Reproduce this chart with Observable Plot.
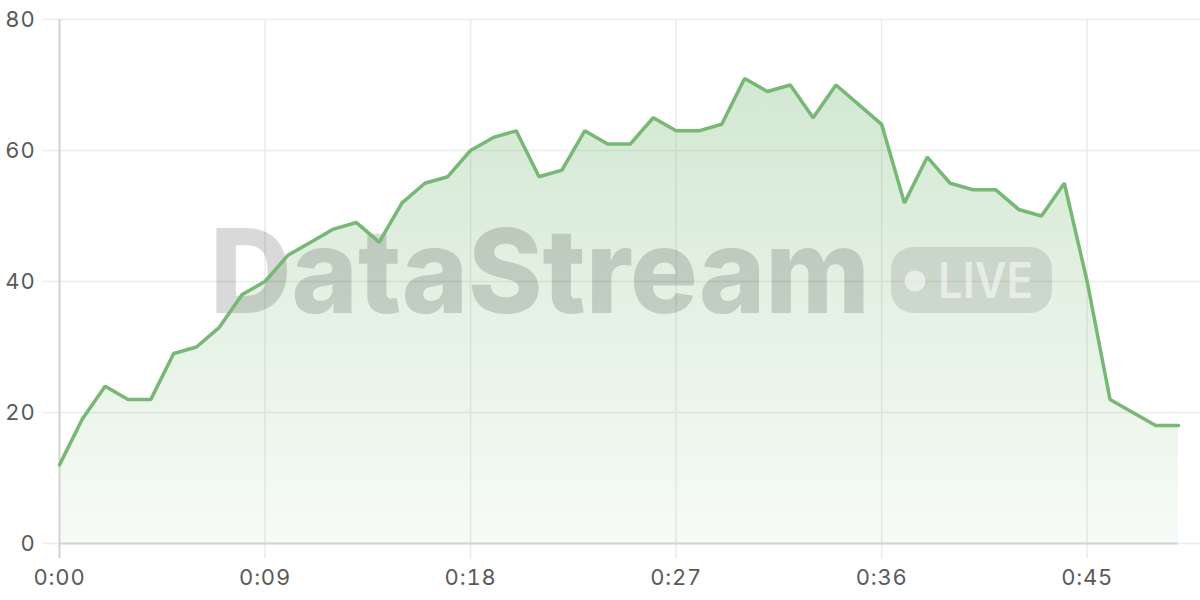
<!DOCTYPE html>
<html>
<head>
<meta charset="utf-8">
<script src="https://cdn.jsdelivr.net/npm/d3@7"></script>
<script src="https://cdn.jsdelivr.net/npm/@observablehq/plot@0.6"></script>
<style>
  html, body { margin: 0; padding: 0; background: #fff; }
  #chart { width: 1200px; height: 600px; }
  svg { font-family: Inter, "Noto Sans", sans-serif; }
  svg g[aria-label="y-axis tick label"] text, svg g[aria-label="x-axis tick label"] text { letter-spacing: 0.8px; }
</style>
</head>
<body>
<div id="chart"></div>
<script>
// Seconds elapsed
const seconds = d3.range(0, 50);
// Values
const values = [12, 19, 24, 22, 22, 29, 30, 33, 38, 40,
                44, 46, 48, 49, 46, 52, 55, 56, 60, 62,
                63, 56, 57, 63, 61, 61, 65, 63, 63, 64,
                71, 69, 70, 65, 70, 67, 64, 52, 59, 55,
                54, 54, 51, 50, 55, 40, 22, 20, 18, 18];
const xTicks = [0, 9, 18, 27, 36, 45];
const yTicks = [0, 20, 40, 60, 80];
const watermarkText = "DataStream";
const badgeText = "LIVE";

const data = seconds.map((s, i) => ({t: s, v: values[i]}));
const fmt = d => `${Math.floor(d / 60)}:${String(d % 60).padStart(2, "0")}`;
const green = "#76b874";

const gradientDefs = (index, scales, values, dims) => {
  const g = d3.create("svg:defs");
  const lg = g.append("linearGradient")
    .attr("id", "areaGrad")
    .attr("gradientUnits", "userSpaceOnUse")
    .attr("x1", 0).attr("x2", 0)
    .attr("y1", dims.marginTop).attr("y2", dims.height - dims.marginBottom);
  lg.append("stop").attr("offset", "0%").attr("stop-color", green).attr("stop-opacity", 0.36);
  lg.append("stop").attr("offset", "100%").attr("stop-color", green).attr("stop-opacity", 0.06);
  return g.node();
};

const watermark = (index, scales, values, dims) => {
  const cx = (dims.marginLeft + dims.width - dims.marginRight) / 2;
  const cy = (dims.marginTop + dims.height - dims.marginBottom) / 2;
  const g = d3.create("svg:g").attr("pointer-events", "none").attr("text-anchor", "start");
  g.append("text")
    .attr("x", cx - 408.5).attr("y", cy + 32)
    .attr("text-anchor", "start")
    .attr("font-family", "Inter, sans-serif")
    .attr("font-weight", 800)
    .attr("font-size", 117)
    .attr("textLength", 660)
    .attr("lengthAdjust", "spacingAndGlyphs")
    .attr("fill", "#000").attr("fill-opacity", 0.15)
    .text(watermarkText);
  g.append("rect")
    .attr("x", cx + 272.5).attr("y", cy - 34)
    .attr("width", 161).attr("height", 66).attr("rx", 22)
    .attr("fill", "#000").attr("fill-opacity", 0.1);
  g.append("circle")
    .attr("cx", cx + 296.5).attr("cy", cy)
    .attr("r", 10.5)
    .attr("fill", "#fff").attr("fill-opacity", 0.55);
  g.append("text")
    .attr("x", cx + 319.5).attr("y", cy + 17)
    .attr("text-anchor", "start")
    .attr("font-family", "Inter, sans-serif")
    .attr("font-weight", 600)
    .attr("font-size", 49)
    .attr("textLength", 95)
    .attr("lengthAdjust", "spacingAndGlyphs")
    .attr("fill", "#fff").attr("fill-opacity", 0.55)
    .text(badgeText);
  return g.node();
};

const plot = Plot.plot({
  width: 1200,
  height: 600,
  marginLeft: 59,
  marginRight: 22,
  marginTop: 19,
  marginBottom: 57,
  style: {fontFamily: "Inter, sans-serif", fontSize: "22px", color: "#5a5a5a", background: "#fff"},
  x: {domain: [0, 49]},
  y: {domain: [0, 80]},
  marks: [
    gradientDefs,
    Plot.ruleY(yTicks.filter(d => d > 0), {stroke: "#ebebeb", strokeWidth: 1.5, insetLeft: -16, insetRight: -22}),
    Plot.ruleY([0], {stroke: "#ebebeb", strokeWidth: 1.5, insetLeft: -16, insetRight: -22}),
    Plot.ruleX(xTicks.filter(d => d > 0), {stroke: "#ebebeb", strokeWidth: 1.5, insetBottom: -15}),
    Plot.areaY(data, {x: "t", y: "v", fill: "url(#areaGrad)"}),
    watermark,
    Plot.ruleY([0], {stroke: "#d2d2d2", strokeWidth: 2}),
    Plot.ruleX([0], {stroke: "#d2d2d2", strokeWidth: 2, insetBottom: -15}),
    Plot.lineY(data, {x: "t", y: "v", stroke: green, strokeWidth: 3.5, strokeLinejoin: "miter"}),
    Plot.axisY({ticks: yTicks, tickSize: 0, tickPadding: 24, label: null, fontSize: 22}),
    Plot.axisX({ticks: xTicks, tickFormat: fmt, tickSize: 0, tickPadding: 26, label: null, fontSize: 22})
  ]
});
document.getElementById("chart").append(plot);
</script>
</body>
</html>
